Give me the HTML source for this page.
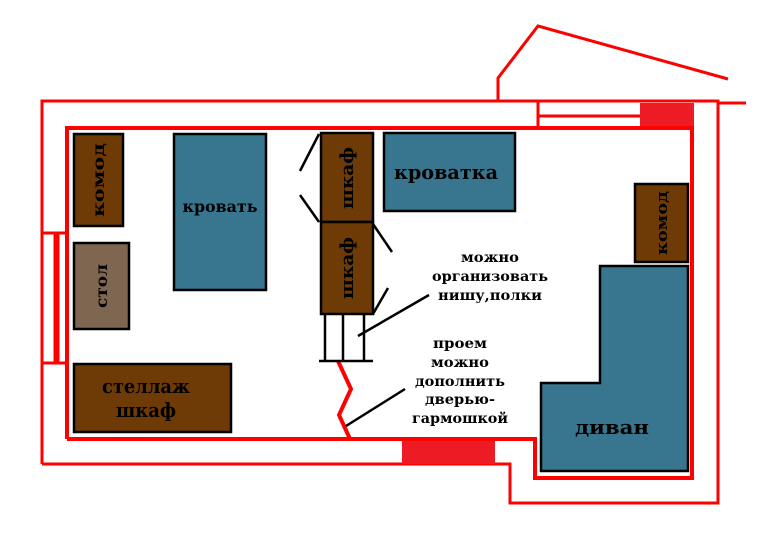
<!DOCTYPE html>
<html><head><meta charset="utf-8"><style>html,body{margin:0;padding:0;background:#fff}svg{display:block}text{font-family:"DejaVu Serif","Liberation Serif",serif;font-weight:bold;fill:#000}</style></head>
<body>
<svg width="770" height="544" viewBox="0 0 770 544" xmlns="http://www.w3.org/2000/svg">
<g fill="none" stroke="#f00" stroke-width="3">
<polyline points="498,101 498,78 538,26 728,79"/>
<polyline points="42,464 42,101 718,101 718,503 510,503 510,464 42,464"/>
<line x1="718" y1="103" x2="746" y2="103"/>
<line x1="538" y1="101" x2="538" y2="128"/>
<line x1="538" y1="116" x2="694" y2="116"/>
<line x1="55" y1="233" x2="55" y2="363"/>
<line x1="58" y1="233" x2="58" y2="363"/>
<line x1="42" y1="233" x2="67" y2="233"/>
<line x1="42" y1="363" x2="67" y2="363"/>
</g>
<rect x="640" y="103" width="54" height="25" fill="#ed1c24"/>
<rect x="402" y="439" width="93" height="25" fill="#ed1c24"/>
<g fill="none" stroke="#f00" stroke-width="4">
<polyline points="67,439 67,128 692,128 692,478 535,478 535,439 67,439"/>
<polyline points="338,361 351,389 339,415 350,439"/>
</g>
<g stroke="#000" stroke-width="2.5">
<rect x="74" y="134" width="49" height="92" fill="#6e3a06"/>
<rect x="74" y="243" width="55" height="86" fill="#7f6650"/>
<rect x="174" y="134" width="92" height="156" fill="#38768f"/>
<rect x="321" y="133" width="52" height="89" fill="#6e3a06"/>
<rect x="321" y="222" width="52" height="92" fill="#6e3a06"/>
<rect x="384" y="133" width="131" height="78" fill="#38768f"/>
<rect x="635" y="184" width="53" height="78" fill="#6e3a06"/>
<polygon points="600,266 688,266 688,471 541,471 541,383 600,383" fill="#38768f"/>
<rect x="74" y="364" width="157" height="68" fill="#6e3a06"/>
<line x1="325" y1="314" x2="325" y2="361"/>
<line x1="343" y1="314" x2="343" y2="361"/>
<line x1="364" y1="314" x2="364" y2="361"/>
<line x1="319" y1="361" x2="373" y2="361"/>
<line x1="300" y1="171" x2="319" y2="134"/>
<line x1="300" y1="195" x2="319" y2="222"/>
<line x1="373" y1="224" x2="392" y2="252"/>
<line x1="388" y1="288" x2="373" y2="314"/>
<line x1="429" y1="295" x2="358" y2="336"/>
<line x1="405" y1="389" x2="346" y2="426"/>
</g>
<text x="220" y="212" font-size="16" text-anchor="middle" textLength="75" lengthAdjust="spacingAndGlyphs">кровать</text>
<text x="446" y="179" font-size="20" text-anchor="middle" textLength="104" lengthAdjust="spacingAndGlyphs">кроватка</text>
<text x="146" y="393" font-size="20" text-anchor="middle" textLength="88" lengthAdjust="spacingAndGlyphs">стеллаж</text>
<text x="146" y="417" font-size="20" text-anchor="middle" textLength="60" lengthAdjust="spacingAndGlyphs">шкаф</text>
<text x="612" y="434" font-size="20" text-anchor="middle" textLength="74" lengthAdjust="spacingAndGlyphs">диван</text>
<text transform="translate(104,180) rotate(-90)" font-size="16" text-anchor="middle" textLength="74" lengthAdjust="spacingAndGlyphs">комод</text>
<text transform="translate(107,286) rotate(-90)" font-size="16" text-anchor="middle" textLength="44" lengthAdjust="spacingAndGlyphs">стол</text>
<text transform="translate(353,178) rotate(-90)" font-size="18" text-anchor="middle" textLength="62" lengthAdjust="spacingAndGlyphs">шкаф</text>
<text transform="translate(353,268) rotate(-90)" font-size="18" text-anchor="middle" textLength="62" lengthAdjust="spacingAndGlyphs">шкаф</text>
<text transform="translate(667,223) rotate(-90)" font-size="15" text-anchor="middle" textLength="64" lengthAdjust="spacingAndGlyphs">комод</text>
<g font-size="14" text-anchor="middle">
<text x="490" y="262" textLength="58" lengthAdjust="spacingAndGlyphs">можно</text>
<text x="490" y="281" textLength="116" lengthAdjust="spacingAndGlyphs">организовать</text>
<text x="490" y="300" textLength="104" lengthAdjust="spacingAndGlyphs">нишу,полки</text>
<text x="460" y="348" textLength="54" lengthAdjust="spacingAndGlyphs">проем</text>
<text x="460" y="367" textLength="58" lengthAdjust="spacingAndGlyphs">можно</text>
<text x="460" y="386" textLength="90" lengthAdjust="spacingAndGlyphs">дополнить</text>
<text x="460" y="404" textLength="70" lengthAdjust="spacingAndGlyphs">дверью-</text>
<text x="460" y="423" textLength="96" lengthAdjust="spacingAndGlyphs">гармошкой</text>
</g>
</svg>
</body></html>
